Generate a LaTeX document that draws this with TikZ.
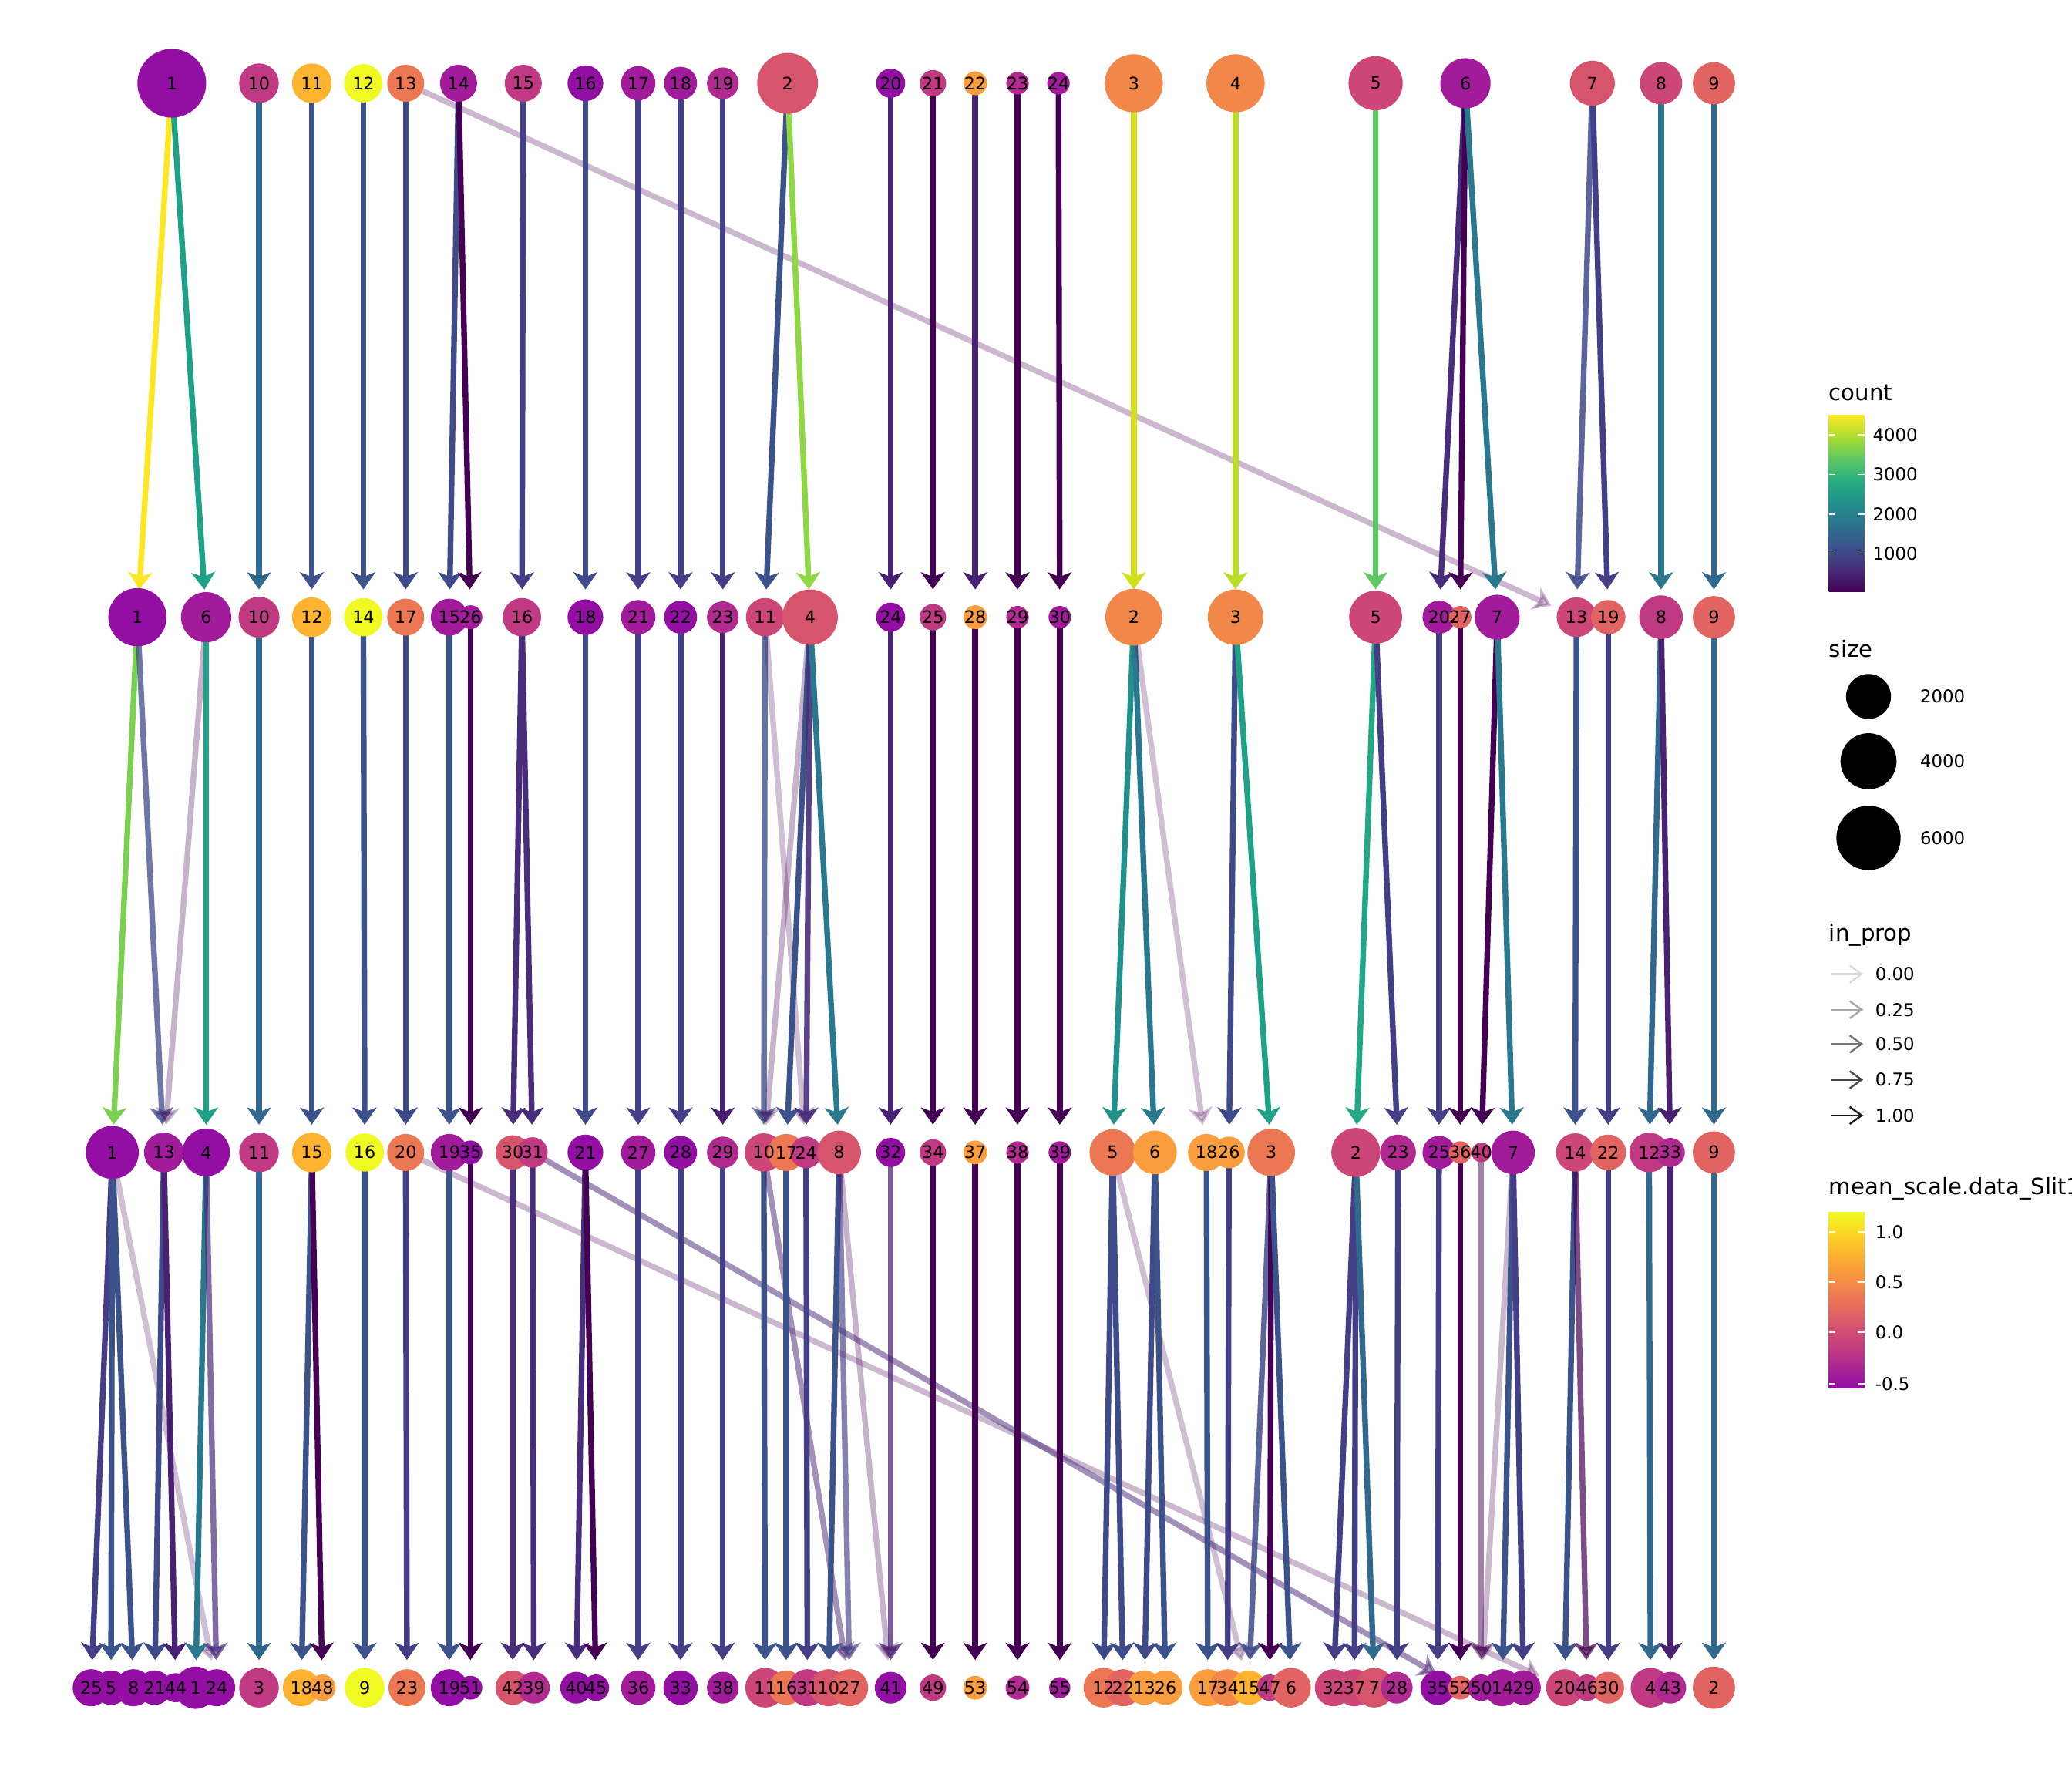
\documentclass[tikz,border=0pt]{standalone}
\usepackage{fontspec}
\setmainfont{DejaVu Sans}
\usetikzlibrary{arrows.meta}
\pgfdeclarelayer{edges}
\pgfdeclarelayer{labels}
\pgfsetlayers{edges,main,labels}
% count (viridis)
\definecolor{vA}{HTML}{440154}
\definecolor{vB}{HTML}{482173}
\definecolor{vQ}{HTML}{472D7B}
\definecolor{vC}{HTML}{433E85}
\definecolor{vD}{HTML}{3E4A89}
\definecolor{vE}{HTML}{3B528B}
\definecolor{vF}{HTML}{31688E}
\definecolor{vG}{HTML}{2A788E}
\definecolor{vH}{HTML}{21918C}
\definecolor{vI}{HTML}{1FA187}
\definecolor{vJ}{HTML}{22A884}
\definecolor{vK}{HTML}{5EC962}
\definecolor{vL}{HTML}{7AD151}
\definecolor{vM}{HTML}{8FD744}
\definecolor{vN}{HTML}{BADE28}
\definecolor{vO}{HTML}{D0E11C}
\definecolor{vP}{HTML}{FDE725}
\definecolor{cb0}{HTML}{440154}
\definecolor{cb1}{HTML}{472D7B}
\definecolor{cb2}{HTML}{3B528B}
\definecolor{cb3}{HTML}{2C728E}
\definecolor{cb4}{HTML}{21908C}
\definecolor{cb5}{HTML}{27AD81}
\definecolor{cb6}{HTML}{5DC863}
\definecolor{cb7}{HTML}{AADC32}
\definecolor{cb8}{HTML}{FDE725}
% mean_scale (plasma)
\definecolor{pA}{HTML}{930FA3}
\definecolor{pB}{HTML}{A11B9B}
\definecolor{pC}{HTML}{B12A90}
\definecolor{pD}{HTML}{C03A83}
\definecolor{pE}{HTML}{CC4778}
\definecolor{pF}{HTML}{D6556D}
\definecolor{pG}{HTML}{E16462}
\definecolor{pH}{HTML}{EC7853}
\definecolor{pI}{HTML}{F2874A}
\definecolor{pJ}{HTML}{F99D3E}
\definecolor{pK}{HTML}{FDB32F}
\definecolor{pL}{HTML}{F0F921}
\definecolor{pl0}{HTML}{8F0DA4}
\definecolor{pl1}{HTML}{B12A90}
\definecolor{pl2}{HTML}{CC4778}
\definecolor{pl3}{HTML}{E16462}
\definecolor{pl4}{HTML}{F2844B}
\definecolor{pl5}{HTML}{FCA636}
\definecolor{pl6}{HTML}{FCCE25}
\definecolor{pl7}{HTML}{F0F921}

\newcommand{\tierA}{130/1/26/pA, 196/10/15/pD, 236/11/15/pK, 275/12/14.5/pL,
  307/13/14/pH, 347/14/14/pB, 396/15/14/pD, 443/16/13.5/pA, 483/17/13/pB,
  515/18/12.5/pB, 547/19/12/pC, 596/2/23/pF, 674/20/11/pA, 706/21/10/pD,
  738/22/9/pJ, 770/23/8.5/pC, 801/24/8.5/pB, 858/3/22/pI, 935/4/22/pI,
  1041/5/20.5/pE, 1109/6/19/pB, 1205/7/17/pF, 1257/8/16/pE, 1297/9/16/pG}
\newcommand{\tierB}{104/1/22/pA, 156/6/19/pB, 196/10/15.5/pD, 236/12/15/pK,
  275/14/14.5/pL, 307/17/14/pH, 340/15/14/pB, 356/26/9/pB, 395/16/14.5/pD,
  443/18/13.5/pA, 483/21/13/pB, 515/22/12.5/pA, 547/23/12/pC, 579/11/14.5/pE,
  613/4/21/pF, 674/24/11/pA, 706/25/10/pD, 738/28/9/pJ, 770/29/8.5/pC,
  802/30/8.5/pB, 858/2/21.5/pI, 935/3/21/pI, 1041/5/20/pE, 1089/20/12.5/pB,
  1105/27/8.5/pG, 1133/7/17/pB, 1193/13/15/pE, 1217/19/13/pG, 1257/8/16.5/pD,
  1297/9/16/pG}
\newcommand{\tierC}{85/1/20/pA, 124/13/15/pB, 156/4/18/pA, 196/11/15/pD,
  236/15/15/pK, 276/16/14.5/pL, 307/20/14/pH, 340/19/14/pB, 356/35/9/pA,
  388/30/13/pF, 403/31/11.5/pD, 443/21/13.5/pA, 483/27/13/pB, 515/28/12.5/pA,
  547/29/12/pC, 578/10/14.5/pE, 595/17/14/pH, 610/24/12/pD, 635/8/16.5/pF,
  674/32/11/pA, 706/34/10/pD, 738/37/9/pJ, 770/38/8.5/pC, 802/39/8.5/pB,
  842/5/17.5/pH, 874/6/16.5/pJ, 913/18/14/pJ, 930/26/12/pJ, 962/3/18/pH,
  1026/2/18.5/pE, 1058/23/13.5/pC, 1089/25/12.5/pB, 1105/36/8.5/pG,
  1121/40/7.5/pD, 1145/7/16.5/pB, 1192/14/14.5/pE, 1217/22/13.5/pG,
  1248/12/15/pD, 1264/33/11/pC, 1297/9/16/pG}
\newcommand{\tierD}{69/25/14/pA, 84/5/13/pA, 101/8/14/pA, 117/21/13/pA,
  133/44/11/pA, 148/1/16/pA, 164/24/14/pA, 196/3/15/pD, 228/18/14/pK,
  244/48/10/pJ, 276/9/15/pL, 308/23/14/pH, 340/19/14/pA, 356/51/9/pA,
  388/42/13/pF, 404/39/12/pC, 436/40/12/pA, 451/45/10/pA, 483/36/13/pB,
  515/33/13/pA, 547/38/12/pB, 579/11/15/pE, 595/16/13/pH, 611/31/14/pD,
  627/10/14/pF, 643/27/14/pG, 674/41/12/pA, 706/49/10/pD, 738/53/9/pJ,
  770/54/9/pC, 802/55/8/pB, 835/12/15/pH, 850/22/14/pG, 866/13/13/pJ,
  882/26/13/pJ, 914/17/14/pJ, 929/34/14/pI, 945/15/13/pK, 961/47/10/pD,
  977/6/15/pG, 1009/32/14/pE, 1025/37/14/pE, 1040/7/15/pF, 1057/28/12/pC,
  1088/35/13/pA, 1105/52/9/pG, 1121/50/10/pB, 1137/14/14/pB, 1153/29/13/pB,
  1184/20/14/pE, 1201/46/10/pD, 1217/30/12/pG, 1249/4/15/pD, 1264/43/12/pC,
  1297/2/16/pG}

\begin{document}
\begin{tikzpicture}[x=1pt,y=-1pt,
    clu/.style={circle,inner sep=0pt,draw=none},
    lab/.style={inner sep=0pt,font=\fontsize{13pt}{15pt}\selectfont},
    flow/.style={line width=4.3pt,-{Stealth[length=13pt,width=18pt,inset=3.5pt]},
      shorten >=21pt},
    legtitle/.style={inner sep=0pt,font=\fontsize{17pt}{19pt}\selectfont},
    leglab/.style={inner sep=0pt,anchor=west,font=\fontsize{13.3pt}{15pt}\selectfont},
    tick/.style={draw=white,line width=0.9pt},
    propkey/.style={line width=1.4pt,-{Straight Barb[length=9pt,width=13pt]}}]
  \useasboundingbox (0,0) rectangle (1568,1344);
  \clip (0,0) rectangle (1568,1344);

  % clusters, one row per resolution
  \foreach \px/\cl/\rad/\fc in \tierA {
    \node[clu,fill=\fc,minimum size=\rad*2pt] (a\cl) at (\px,63) {};
    \begin{pgfonlayer}{labels}\node[lab] (la\cl) at (a\cl) {\cl};\end{pgfonlayer}
  }
  \foreach \px/\cl/\rad/\fc in \tierB {
    \node[clu,fill=\fc,minimum size=\rad*2pt] (b\cl) at (\px,467) {};
    \begin{pgfonlayer}{labels}\node[lab] (lb\cl) at (b\cl) {\cl};\end{pgfonlayer}
  }
  \foreach \px/\cl/\rad/\fc in \tierC {
    \node[clu,fill=\fc,minimum size=\rad*2pt] (c\cl) at (\px,872) {};
    \begin{pgfonlayer}{labels}\node[lab] (lc\cl) at (c\cl) {\cl};\end{pgfonlayer}
  }
  \foreach \px/\cl/\rad/\fc in \tierD {
    \node[clu,fill=\fc,minimum size=\rad*2pt] (d\cl) at (\px,1277) {};
    \begin{pgfonlayer}{labels}\node[lab] (ld\cl) at (d\cl) {\cl};\end{pgfonlayer}
  }

  \begin{pgfonlayer}{edges}
  \foreach \s/\t/\ec/\op in {1/1/vP/1, 1/6/vI/1, 10/10/vF/1, 11/12/vE/1,
      12/14/vE/1, 13/17/vD/1, 13/13/vA/0.28, 14/15/vD/1, 14/26/vA/1, 15/16/vC/1,
      16/18/vD/1, 17/21/vC/1, 18/22/vC/1, 19/23/vC/1, 2/11/vE/1, 2/4/vM/1,
      20/24/vB/1, 21/25/vA/1, 22/28/vB/1, 23/29/vA/1, 24/30/vA/1, 3/2/vO/1,
      4/3/vN/1, 5/5/vK/1, 6/20/vQ/1, 6/27/vA/1, 6/7/vG/1, 7/13/vD/0.85,
      7/19/vC/1, 8/8/vG/1, 9/9/vF/1}
    \draw[flow,draw=\ec,opacity=\op] (a\s.center) -- (b\t.center);
  \foreach \s/\t/\ec/\op in {1/1/vL/1, 1/13/vD/0.75, 6/13/vA/0.3, 6/4/vI/1,
      10/11/vF/1, 12/15/vE/1, 14/16/vE/1, 17/20/vD/1, 15/19/vE/1, 26/35/vA/1,
      16/30/vQ/1, 16/31/vQ/1, 18/21/vD/1, 21/27/vC/1, 22/28/vC/1, 23/29/vB/1,
      11/10/vE/0.8, 11/24/vA/0.25, 4/10/vA/0.3, 4/17/vE/1, 4/24/vQ/0.9,
      4/8/vG/1, 24/32/vB/1, 25/34/vA/1, 28/37/vA/1, 29/38/vA/1, 30/39/vA/1,
      2/5/vH/1, 2/6/vG/1, 2/18/vA/0.25, 3/26/vD/1, 3/3/vI/1, 5/2/vJ/1,
      5/23/vC/1, 20/25/vC/1, 27/36/vA/1, 7/40/vA/1, 7/7/vG/1, 13/14/vE/1,
      19/22/vC/1, 8/12/vF/1, 8/33/vB/1, 9/9/vF/1}
    \draw[flow,draw=\ec,opacity=\op] (b\s.center) -- (c\t.center);
  \foreach \s/\t/\ec/\op in {1/25/vC/1, 1/5/vE/1, 1/8/vE/1, 1/24/vA/0.25,
      13/21/vD/1, 13/44/vB/1, 4/1/vG/1, 4/24/vQ/0.7, 11/3/vF/1, 15/18/vE/1,
      15/48/vA/1, 16/9/vE/1, 20/23/vC/1, 20/20/vA/0.28, 19/19/vE/1, 35/51/vA/1,
      30/42/vQ/1, 31/39/vQ/1, 31/52/vB/0.5, 21/40/vQ/1, 21/45/vA/1, 27/36/vC/1,
      28/33/vC/1, 29/38/vC/1, 10/11/vE/1, 10/27/vB/0.5, 17/16/vE/1, 24/31/vC/1,
      8/10/vE/1, 8/27/vC/0.65, 8/41/vA/0.3, 32/41/vB/0.75, 34/49/vA/1,
      37/53/vA/1, 38/54/vA/1, 39/55/vA/1, 5/12/vD/1, 5/22/vD/1, 5/15/vA/0.25,
      6/13/vD/1, 6/26/vE/1, 18/17/vE/1, 26/34/vC/1, 3/15/vD/0.85, 3/47/vA/1,
      3/6/vE/1, 2/32/vC/1, 2/37/vC/1, 2/7/vF/1, 23/28/vC/1, 25/35/vC/1,
      36/52/vA/1, 40/50/vA/0.5, 7/50/vA/0.28, 7/14/vE/1, 7/29/vC/1, 14/20/vE/1,
      14/46/vA/0.7, 22/30/vC/1, 12/4/vF/1, 33/43/vB/1, 9/2/vF/1}
    \draw[flow,draw=\ec,opacity=\op] (c\s.center) -- (d\t.center);
  \end{pgfonlayer}

  % legend
  \node[legtitle,anchor=base west] (tcount) at (1384,303) {count};
  \foreach \i [evaluate=\i as \j using int(\i+1)] in {0,...,7}
    \shade[bottom color=cb\i,top color=cb\j]
      (1384,{447-16.625*\i+0.5}) rectangle (1411,{447-16.625*\j});
  \foreach \v/\yy in {4000/329,3000/359,2000/389,1000/419} {
    \draw[tick] (1384,\yy) -- (1389,\yy) (1406,\yy) -- (1411,\yy);
    \node[leglab] (ct\v) at (1417,\yy) {\v};
  }

  \node[legtitle,anchor=base west] (tsize) at (1384,497) {size};
  \foreach \v/\yy/\rr in {2000/527/17,4000/576/21.2,6000/634/24.3} {
    \node[clu,fill=black,minimum size=\rr*2pt] (sk\v) at (1414,\yy) {};
    \node[leglab] (sz\v) at (1453,\yy) {\v};
  }

  \node[legtitle,anchor=base west] (tprop) at (1384,712) {in\_prop};
  \foreach \v/\yy/\gr [count=\n] in {0.00/737/14,0.25/764/34,0.50/790/54,
      0.75/817/73,1.00/844/92} {
    \draw[propkey,draw=black!\gr] (1386,\yy) -- (1410,\yy);
    \node[leglab] (ip\n) at (1419,\yy) {\v};
  }

  \node[legtitle,anchor=base west] (tmean) at (1384,904) {mean\_scale.data\_Slit1};
  \foreach \i [evaluate=\i as \j using int(\i+1)] in {0,...,6}
    \shade[bottom color=pl\i,top color=pl\j]
      (1384,{1050-19*\i+0.5}) rectangle (1411,{1050-19*\j});
  \foreach \v/\yy [count=\n] in {1.0/932,0.5/970,0.0/1008,-0.5/1047} {
    \draw[tick] (1384,\yy) -- (1389,\yy) (1406,\yy) -- (1411,\yy);
    \node[leglab] (ms\n) at (1419,\yy) {\v};
  }
\end{tikzpicture}
\end{document}
